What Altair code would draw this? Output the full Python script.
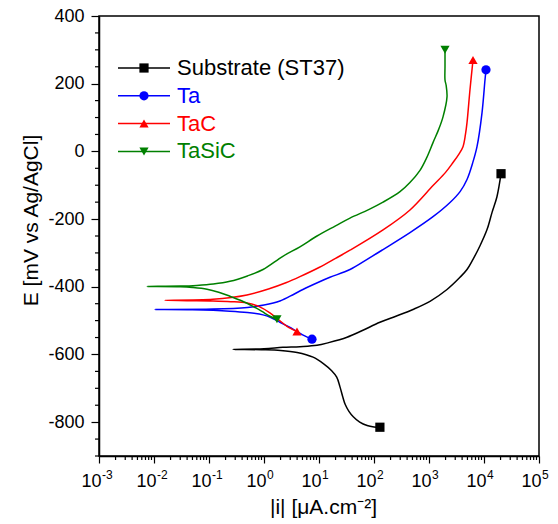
import altair as alt
import pandas as pd

# ---------------- data ----------------
series_names = ["Substrate (ST37)", "Ta", "TaC", "TaSiC"]
series_colors = ["#000000", "#0000FF", "#FF0000", "#008000"]
series_shapes = ["square", "circle", "triangle-up", "triangle-down"]

# each curve runs: cathodic end -> corrosion potential (left tip) -> anodic end
sub_i = [128, 100, 75, 55, 42, 35, 30, 27, 24, 21, 17, 12, 7.8, 4, 2, 0.9, 0.273,
         1.0, 2.2, 4.5, 9.2, 15, 32.3, 60, 128, 250, 512, 1042, 2125, 3660, 4910, 6310,
         8500, 11350, 13970, 17200, 20400]
sub_E = [-815, -814, -810, -800, -784, -768, -748, -725, -695, -667, -648, -627, -608, -594, -588, -586, -585,
         -583, -579, -577, -573, -565, -549, -530, -505, -487, -467, -443, -408, -372, -349, -319,
         -278, -231, -181, -134, -66]

ta_i = [7.46, 5.5, 3.98, 2.8, 1.95, 1.3, 0.96, 0.5, 0.24, 0.05, 0.0104,
        0.118, 0.5, 1.0, 1.95, 3.5, 5.1, 10, 15.8, 36.6, 75, 146, 451, 1183, 2410, 3700, 4910,
        6200, 7460, 9200, 10420, 10870]
ta_E = [-555, -545, -532, -518, -505, -490, -483, -476, -472, -468, -467,
        -466, -461, -454, -442, -422, -408, -386, -372, -349, -319, -290, -240, -193, -151, -118, -83,
        -35, 14, 114, 211, 241]

tac_i = [3.98, 3.2, 2.62, 1.8, 1.28, 0.8, 0.49, 0.25, 0.118, 0.04, 0.0158,
         0.118, 0.49, 1.28, 2.5, 4.5, 10, 20, 36.6, 146, 451, 1183, 2000, 2731, 3500, 4150,
         4600, 4910, 5560, 6310]
tac_E = [-532, -525, -517, -496, -477, -458, -448, -444, -442, -441, -440,
         -437, -424, -405, -388, -370, -343, -316, -292, -232, -173, -101, -62, -33, -8, 14,
         50, 85, 182, 270]

tasic_i = [1.72, 1.28, 0.9, 0.63, 0.4, 0.24, 0.15, 0.092, 0.05, 0.030, 0.0075,
           0.03, 0.06, 0.12, 0.24, 0.5, 0.96, 2.2, 4.5, 9.2, 20, 36.6, 80, 146, 297, 450, 686,
           900, 1183, 1500, 1798, 2125, 2050, 1954, 1954, 1954]
tasic_E = [-496, -487, -472, -458, -442, -428, -416, -407, -402, -400, -399,
           -398, -396, -392, -384, -368, -349, -310, -282, -250, -220, -197, -172, -150, -119, -92, -56,
           -20, 26, 65, 102, 161, 195, 211, 250, 300]

decade_exponents = [-3, -2, -1, 0, 1, 2, 3, 4, 5]
y_major = [-800, -600, -400, -200, 0, 200, 400]

# ---------------- tables ----------------
rows = []
for name, xs, ys in zip(series_names, [sub_i, ta_i, tac_i, tasic_i], [sub_E, ta_E, tac_E, tasic_E]):
    for k, (a, b) in enumerate(zip(xs, ys)):
        rows.append({"series": name, "i": a, "E": b, "ord": k, "n": len(xs)})
df = pd.DataFrame(rows)
ends = df[(df["ord"] == 0) | (df["ord"] == df["n"] - 1)]

legend_df = pd.DataFrame({"series": series_names, "row": list(range(len(series_names)))})
dec_df = pd.DataFrame({"v": [10.0 ** e for e in decade_exponents],
                       "base": ["10"] * len(decade_exponents),
                       "exp": [str(e) for e in decade_exponents]})

x_minor = [m * 10.0 ** e for e in decade_exponents[:-1] for m in range(2, 10)]
y_minor = [v for v in range(-900, 401, 50) if v % 200 != 0]
xminor_df = pd.DataFrame({"i": x_minor})
yminor_df = pd.DataFrame({"E": y_minor})

W, H = 440, 440
FONT = "Liberation Sans"

color_scale = alt.Scale(domain=series_names, range=series_colors)
shape_scale = alt.Scale(domain=series_names, range=series_shapes)
x_scale = alt.Scale(type="log", domain=[1e-3, 1e5])
y_scale = alt.Scale(domain=[-900, 400], nice=False, zero=False)

x_enc = alt.X("i:Q", scale=x_scale,
              axis=alt.Axis(values=[10.0 ** e for e in decade_exponents], labels=False, grid=False,
                            tickSize=7,
                            title="|i| [μA.cm⁻²]", titleFont=FONT, titleFontSize=21,
                            titleFontWeight="normal", titleX=224, titleY=57,
                            titleBaseline="alphabetic", titleAlign="center"))
y_enc = alt.Y("E:Q", scale=y_scale,
              axis=alt.Axis(values=y_major, grid=False, labelOverlap=False, labelFlush=False,
                            labelExpr="'' + datum.value", tickSize=8,
                            labelFont=FONT, labelFontSize=18, labelPadding=7,
                            title="E [mV vs Ag/AgCl]", titleFont=FONT, titleFontSize=21,
                            titleFontWeight="normal", titleX=-62, titleY=204,
                            titleBaseline="alphabetic", titleAlign="center"))

lines = alt.Chart(df).mark_line(strokeWidth=1.5, interpolate="catmull-rom").encode(
    x=x_enc, y=y_enc,
    color=alt.Color("series:N", scale=color_scale, legend=None),
    detail="series:N", order="ord:Q")

markers = alt.Chart(ends).mark_point(filled=True, size=85, opacity=1).encode(
    x="i:Q", y="E:Q",
    color=alt.Color("series:N", scale=color_scale, legend=None),
    shape=alt.Shape("series:N", scale=shape_scale, legend=None))

# minor ticks
xminor = alt.Chart(xminor_df).mark_rule(color="#000000", strokeWidth=1.2).encode(
    x="i:Q", y=alt.value(H), y2=alt.value(H + 4))
yminor = alt.Chart(yminor_df).mark_rule(color="#000000", strokeWidth=1.2).encode(
    y="E:Q", x=alt.value(-4), x2=alt.value(0))

# x tick labels: "10" with superscript exponent
lab_base = alt.Chart(dec_df).mark_text(font=FONT, fontSize=18, align="right", baseline="alphabetic", dx=2.5).encode(
    x="v:Q", y=alt.value(H + 31), text="base:N")
lab_exp = alt.Chart(dec_df).mark_text(font=FONT, fontSize=12, align="left", baseline="alphabetic", dx=3).encode(
    x="v:Q", y=alt.value(H + 23), text="exp:N")

# legend (inside the plot, top-left)
leg = alt.Chart(legend_df).transform_calculate(ly="52 + datum.row * 27.8")
leg_line = leg.mark_rule(strokeWidth=1.5).encode(
    x=alt.value(19), x2=alt.value(71), y=alt.Y("ly:Q", scale=None),
    color=alt.Color("series:N", scale=color_scale, legend=None))
leg_pt = leg.mark_point(filled=True, size=85, opacity=1).encode(
    x=alt.value(45), y=alt.Y("ly:Q", scale=None),
    color=alt.Color("series:N", scale=color_scale, legend=None),
    shape=alt.Shape("series:N", scale=shape_scale, legend=None))
leg_txt = leg.mark_text(font=FONT, fontSize=22, align="left", baseline="middle").encode(
    x=alt.value(78), y=alt.Y("ly:Q", scale=None), text="series:N",
    color=alt.Color("series:N", scale=color_scale, legend=None))

chart = alt.layer(lines, markers, xminor, yminor, lab_base, lab_exp, leg_line, leg_pt, leg_txt).properties(
    width=W, height=H,
    autosize=alt.AutoSizeParams(type="none"),
    padding={"left": 99, "top": 16, "right": 19, "bottom": 68},
    background="white",
).configure_view(stroke="#000000", strokeWidth=1.5).configure_axis(
    domainColor="#000000", domainWidth=1.5, tickColor="#000000", tickWidth=1.2,
    labelColor="#000000", titleColor="#000000")

chart.save("out.html", embed_options={"renderer": "svg", "actions": False})
